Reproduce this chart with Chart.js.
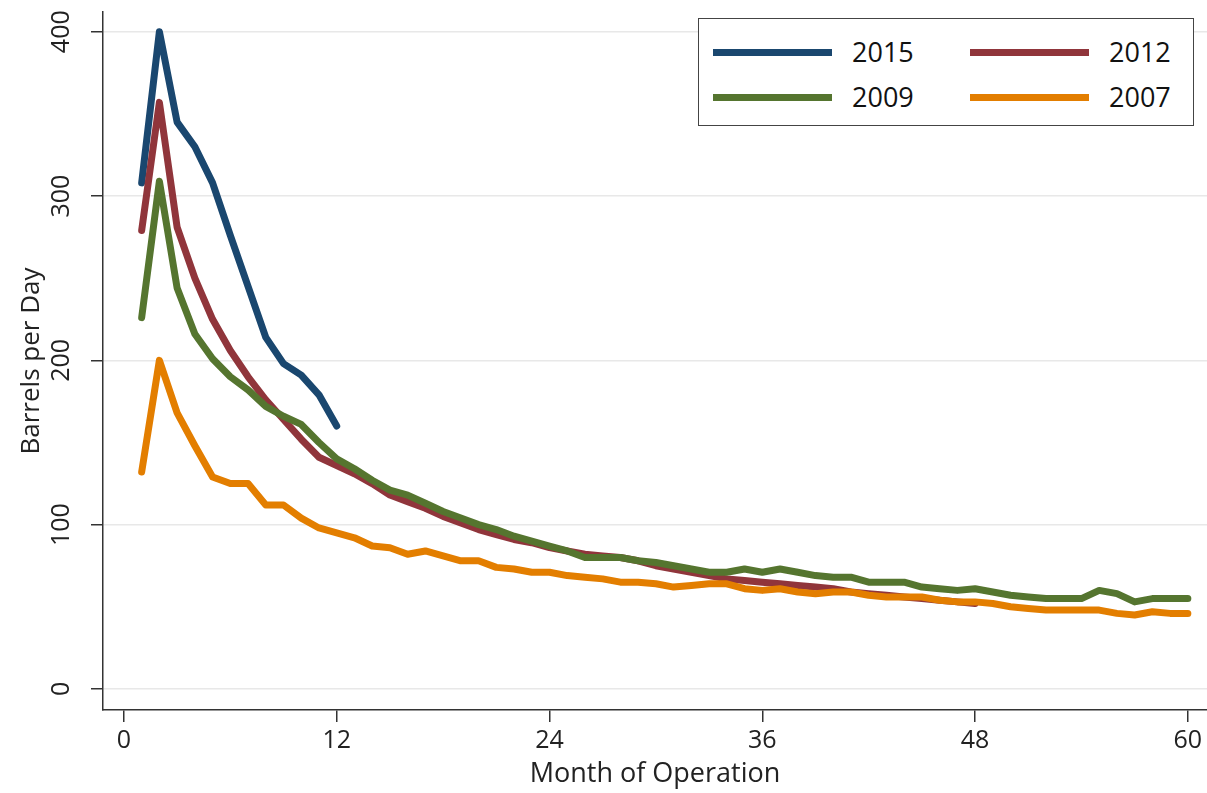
<!DOCTYPE html>
<html>
<head>
<meta charset="utf-8">
<script src="https://cdn.jsdelivr.net/npm/chart.js@4.4.1/dist/chart.umd.min.js"></script>
<style>
  html, body { margin: 0; padding: 0; background: #fff; }
  #wrap { position: relative; width: 1207px; height: 793px; }
  #legend {
    position: absolute; left: 698px; top: 18px; width: 496px; height: 108px;
    border: 1.5px solid #444; background: #fff; box-sizing: border-box;
    font-family: "Open Sans", sans-serif; font-size: 27px; color: #111;
  }
  .item { position: absolute; height: 36px; line-height: 36px; }
  .swatch { position: absolute; left: 0; top: 15px; width: 119px; height: 7px; }
  .item span { position: absolute; left: 139px; top: 0; }
</style>
</head>
<body>
<div id="wrap">
  <canvas id="chart" width="1207" height="793"></canvas>
  <div id="legend"></div>
</div>
<script>
// Months of operation
const months = [1, 2, 3, 4, 5, 6, 7, 8, 9, 10, 11, 12, 13, 14, 15, 16, 17, 18, 19, 20,
  21, 22, 23, 24, 25, 26, 27, 28, 29, 30, 31, 32, 33, 34, 35, 36, 37, 38, 39, 40,
  41, 42, 43, 44, 45, 46, 47, 48, 49, 50, 51, 52, 53, 54, 55, 56, 57, 58, 59, 60];

// Barrels per day, by cohort year
const y2015 = [308, 400, 345, 330, 308, 276, 245, 214, 198, 191, 179, 160];
const y2012 = [279, 357, 281, 250, 225, 206, 190, 176, 164, 152, 141, 136,
  131, 125, 118, 114, 110, 105, 101, 97, 94, 91, 89, 86, 84, 82, 81, 80, 78, 75,
  73, 71, 69, 67, 66, 65, 64, 63, 62, 61, 59, 58, 57, 56, 55, 54, 53, 52];
const y2009 = [226, 309, 244, 216, 201, 190, 182, 172, 166, 161, 150, 140,
  134, 127, 121, 118, 113, 108, 104, 100, 97, 93, 90, 87, 84, 80, 80, 80, 78, 77,
  75, 73, 71, 71, 73, 71, 73, 71, 69, 68, 68, 65, 65, 65, 62, 61, 60, 61, 59, 57,
  56, 55, 55, 55, 60, 58, 53, 55, 55, 55];
const y2007 = [132, 200, 168, 148, 129, 125, 125, 112, 112, 104, 98, 95,
  92, 87, 86, 82, 84, 81, 78, 78, 74, 73, 71, 71, 69, 68, 67, 65, 65, 64,
  62, 63, 64, 64, 61, 60, 61, 59, 58, 59, 59, 57, 56, 56, 56, 54, 53, 53, 52, 50,
  49, 48, 48, 48, 48, 46, 45, 47, 46, 46];

const seriesNames = ["2015", "2012", "2009", "2007"];
const seriesColors = ["#1a476f", "#90353b", "#55752f", "#e37e00"];
const xTicks = [0, 12, 24, 36, 48, 60];
const yTicks = [0, 100, 200, 300, 400];

const FONT = "'Open Sans', sans-serif";

function toPoints(values) {
  return values.map((v, i) => ({ x: months[i], y: v }));
}

const allSeries = [y2015, y2012, y2009, y2007];
const drawOrder = [4, 3, 2, 1];

const datasets = allSeries.map((vals, i) => ({
  label: seriesNames[i],
  data: toPoints(vals),
  borderColor: seriesColors[i],
  backgroundColor: seriesColors[i],
  borderWidth: 7,
  pointRadius: 0,
  tension: 0,
  fill: false,
  borderJoinStyle: "round",
  borderCapStyle: "round",
  order: drawOrder[i],
}));

// Legend (two columns, like the original)
const legend = document.getElementById("legend");
const slots = [[14, 15], [271, 15], [14, 60], [271, 60]];
seriesNames.forEach((name, i) => {
  const item = document.createElement("div");
  item.className = "item";
  item.style.left = slots[i][0] + "px";
  item.style.top = slots[i][1] + "px";
  item.innerHTML = `<div class="swatch" style="background:${seriesColors[i]}"></div><span>${name}</span>`;
  legend.appendChild(item);
});

const ctx = document.getElementById("chart").getContext("2d");
new Chart(ctx, {
  type: "line",
  data: { datasets },
  options: {
    responsive: false,
    animation: false,
    layout: { padding: { left: 0, right: 0, top: 12, bottom: 0 } },
    plugins: { legend: { display: false }, tooltip: { enabled: false } },
    scales: {
      x: {
        type: "linear",
        min: -1.18,
        max: 61.08,
        afterBuildTicks: (scale) => {
          scale.ticks = xTicks.map((v) => ({ value: v }));
        },
        afterFit: (scale) => {
          scale.height = 83;
          scale.paddingLeft = 0;
          scale.paddingRight = 0;
        },
        border: { color: "#333", width: 1.5 },
        grid: {
          drawOnChartArea: false,
          drawTicks: true,
          tickLength: 12,
          color: "#333",
          lineWidth: 1.5,
        },
        ticks: {
          font: { family: FONT, size: 25 },
          color: "#222",
          padding: 4,
          maxRotation: 0,
        },
        title: {
          display: true,
          text: "Month of Operation",
          font: { family: FONT, size: 27 },
          color: "#222",
          padding: { top: 0, bottom: 2 },
        },
      },
      y: {
        type: "linear",
        min: -12.8,
        max: 412,
        afterBuildTicks: (scale) => {
          scale.ticks = yTicks.map((v) => ({ value: v }));
        },
        afterFit: (scale) => {
          scale.width = 103;
          scale.paddingTop = 0;
          scale.paddingBottom = 0;
        },
        border: { color: "#333", width: 1.5 },
        grid: {
          drawTicks: true,
          tickLength: 12,
          color: "#e8e8e8",
          tickColor: "#333",
          lineWidth: 1.5,
        },
        ticks: {
          font: { family: FONT, size: 25 },
          color: "#222",
          padding: 8,
          minRotation: 90,
          maxRotation: 90,
          crossAlign: "center",
        },
        title: {
          display: true,
          text: "Barrels per Day",
          font: { family: FONT, size: 26 },
          color: "#222",
          padding: { top: 16, bottom: 0 },
        },
      },
    },
  },
});
</script>
</body>
</html>
